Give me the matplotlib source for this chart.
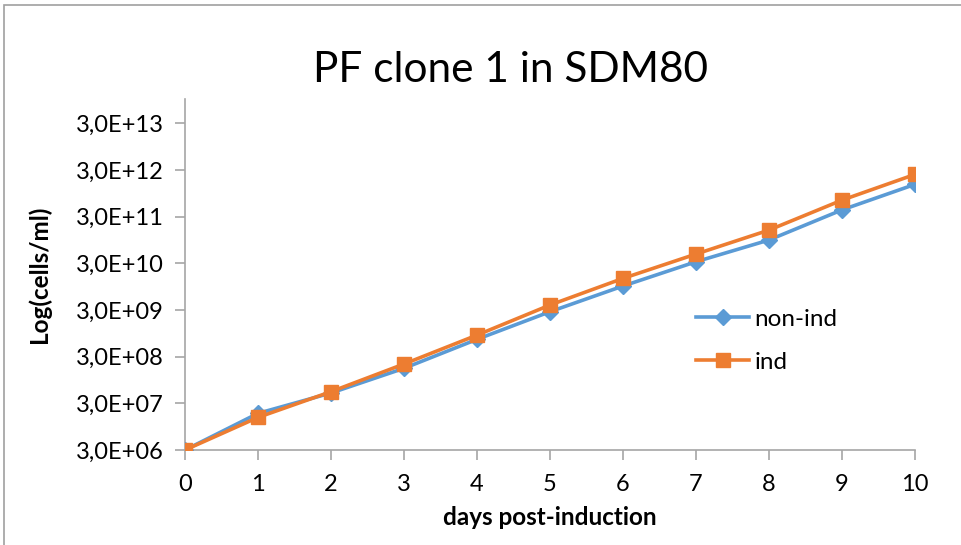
import matplotlib
matplotlib.use("Agg")
import matplotlib.pyplot as plt
from matplotlib.patches import Rectangle
from matplotlib.ticker import FixedLocator, FixedFormatter, NullLocator

days = [0, 1, 2, 3, 4, 5, 6, 7, 8, 9, 10]
non_ind = [3.0e6, 1.83e7, 5.0e7, 1.69e8, 7.06e8, 2.76e9, 9.8e9, 3.25e10, 9.5e10, 4.2e11, 1.48e12]
ind = [3.0e6, 1.5e7, 5.33e7, 2.09e8, 8.7e8, 3.84e9, 1.43e10, 4.75e10, 1.55e11, 6.8e11, 2.42e12]
ytick_vals = [3e6, 3e7, 3e8, 3e9, 3e10, 3e11, 3e12, 3e13]
ytick_labels = ["3,0E+06", "3,0E+07", "3,0E+08", "3,0E+09", "3,0E+10", "3,0E+11", "3,0E+12", "3,0E+13"]
xtick_labels = [str(d) for d in days]

plt.rcParams['font.family'] = ['Lato', 'DejaVu Sans']

fig = plt.figure(figsize=(9.62, 5.45), dpi=100)
W, H = 962, 545
ax = fig.add_axes([185 / W, 1 - 450 / H, (915 - 185) / W, (450 - 99) / H])

blue = '#5B9BD5'
orange = '#ED7D31'
grey = '#A6A6A6'

ax.plot(days, non_ind, color=blue, lw=2.6, marker='D', ms=8, mec=blue, mfc=blue, label='non-ind', zorder=3)
ax.plot(days, ind, color=orange, lw=2.6, marker='s', ms=10, mec=orange, mfc=orange, label='ind', zorder=4)

ax.set_yscale('log')
ax.set_ylim(3e6, 1e14)
ax.set_xlim(0, 10)
ax.yaxis.set_major_locator(FixedLocator(ytick_vals))
ax.yaxis.set_major_formatter(FixedFormatter(ytick_labels))
ax.yaxis.set_minor_locator(NullLocator())
ax.set_xticks(days)
ax.set_xticklabels(xtick_labels)

for s in ['top', 'right']:
    ax.spines[s].set_visible(False)
for s in ['left', 'bottom']:
    ax.spines[s].set_color(grey)
    ax.spines[s].set_linewidth(1.2)
ax.tick_params(axis='both', colors=grey, length=7, width=1.2, labelcolor='black', labelsize=17)
ax.tick_params(axis='x', pad=10)
ax.tick_params(axis='y', pad=8)
for lab in ax.get_xticklabels() + ax.get_yticklabels():
    lab.set_clip_on(False)

ax.set_xlabel('days post-induction', fontsize=17.5, fontweight='bold', labelpad=8)
ax.set_ylabel('Log(cells/ml)', fontsize=17.5, fontweight='bold', labelpad=18)

fig.text(511 / W, 1 - 70 / H, 'PF clone 1 in SDM80', ha='center', va='center', fontsize=30.5)

leg = ax.legend(loc='upper left', bbox_to_anchor=(674 / W, 1 - 287 / H), bbox_transform=fig.transFigure,
                frameon=False, fontsize=17.5, handlelength=2.2, labelspacing=0.9, handletextpad=0.2)

fig.patches.append(Rectangle((4 / W, -0.1), 1.2, 1.1 - 5 / H, transform=fig.transFigure,
                             fill=False, edgecolor='#A0A0A0', lw=1.2))

fig.savefig('out.png', dpi=100)
